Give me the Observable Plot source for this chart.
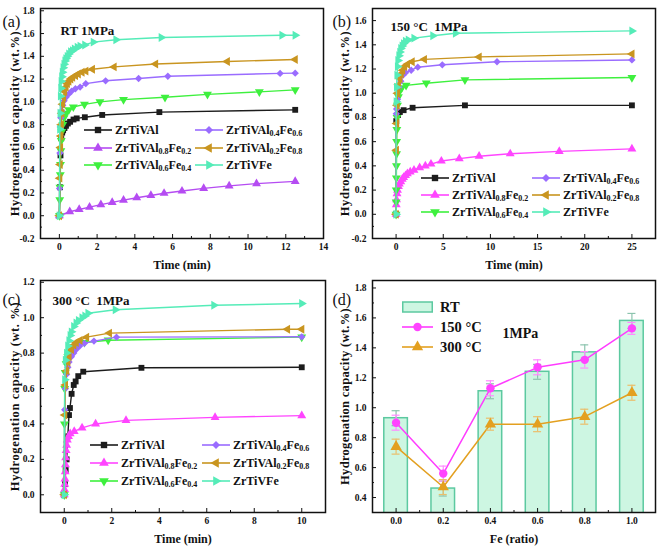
<!DOCTYPE html>
<html><head><meta charset="utf-8">
<script src="https://cdn.jsdelivr.net/npm/d3@7"></script>
<script src="https://cdn.jsdelivr.net/npm/@observablehq/plot@0.6"></script>
<style>
body{margin:0;background:#fff;font-family:"Liberation Serif","Times New Roman",Times,serif;}
#root{position:relative;width:661px;height:552px;overflow:hidden;background:#fff;font-family:"Liberation Serif","Times New Roman",Times,serif;}
.panel{position:absolute;}
.leg{position:absolute;display:flex;align-items:center;height:16px;font-family:"Liberation Serif","Times New Roman",Times,serif;font-weight:bold;font-size:12px;white-space:nowrap;color:#111;}
.leg span{margin-left:3px;font-family:"Liberation Serif","Times New Roman",Times,serif;}
.leg sub{font-size:8px;position:relative;top:2px;vertical-align:baseline;line-height:0;}
.dleg{position:absolute;display:flex;align-items:center;height:16px;font-family:"Liberation Serif","Times New Roman",Times,serif;font-weight:bold;font-size:14.5px;white-space:nowrap;color:#111;}
.dleg span{margin-left:7px;font-family:"Liberation Serif","Times New Roman",Times,serif;}
</style></head>
<body><div id="root"></div>
<script>
// ---------------- DATA ----------------
const seriesLabels = ["ZrTiVAl","ZrTiVAl<sub>0.8</sub>Fe<sub>0.2</sub>","ZrTiVAl<sub>0.6</sub>Fe<sub>0.4</sub>","ZrTiVAl<sub>0.4</sub>Fe<sub>0.6</sub>","ZrTiVAl<sub>0.2</sub>Fe<sub>0.8</sub>","ZrTiVFe"];

// (a) RT 1MPa  [time(min), capacity(wt.%)]
const rt_Al = [[0,0],[0.03,0.25],[0.06,0.53],[0.1,0.68],[0.15,0.73],[0.2,0.75],[0.27,0.77],[0.35,0.79],[0.45,0.81],[0.57,0.825],[0.75,0.845],[0.92,0.855],[1.35,0.865],[2.27,0.885],[5.3,0.91],[12.5,0.93]];
const rt_Al08 = [[0,0],[0.55,0.035],[1.05,0.055],[1.6,0.075],[2.2,0.097],[2.8,0.117],[3.4,0.137],[4.1,0.158],[4.85,0.178],[5.55,0.197],[6.5,0.217],[7.65,0.24],[9.0,0.262],[10.45,0.282],[12.5,0.302]];
const rt_Al06 = [[0,0],[0.02,0.14],[0.03,0.25],[0.05,0.36],[0.06,0.45],[0.08,0.57],[0.1,0.66],[0.13,0.74],[0.18,0.8],[0.25,0.86],[0.35,0.9],[0.5,0.93],[0.74,0.955],[1.33,0.978],[2.15,1.0],[3.4,1.02],[5.6,1.04],[7.85,1.066],[10.6,1.088],[12.5,1.105]];
const rt_Al04 = [[0,0],[0.01,0.24],[0.03,0.55],[0.05,0.78],[0.08,0.86],[0.12,0.92],[0.18,0.97],[0.25,1.01],[0.35,1.04],[0.5,1.07],[0.65,1.095],[0.85,1.115],[1.1,1.13],[1.4,1.16],[2.45,1.185],[4.2,1.205],[5.75,1.225],[11.7,1.25],[12.5,1.252]];
const rt_Al02 = [[0,0],[0.02,0.33],[0.04,0.45],[0.06,0.6],[0.08,0.7],[0.1,0.8],[0.13,0.9],[0.17,0.98],[0.22,1.04],[0.28,1.09],[0.35,1.13],[0.42,1.16],[0.5,1.18],[0.6,1.2],[0.7,1.215],[0.85,1.23],[1.0,1.245],[1.2,1.26],[1.4,1.27],[1.75,1.287],[2.9,1.307],[5.1,1.332],[8.9,1.355],[12.5,1.372]];
const rt_Fe = [[0,0],[0.02,0.76],[0.04,0.9],[0.06,1.05],[0.08,1.12],[0.1,1.18],[0.13,1.22],[0.16,1.26],[0.2,1.3],[0.25,1.33],[0.3,1.36],[0.35,1.38],[0.42,1.4],[0.5,1.42],[0.6,1.44],[0.7,1.45],[0.8,1.465],[0.95,1.48],[1.1,1.49],[1.35,1.5],[1.8,1.525],[3.0,1.545],[5.4,1.565],[11.8,1.585],[12.5,1.585]];

// (b) 150 °C 1MPa
const t150_Al = [[0,0],[0.02,0.77],[0.2,0.82],[0.4,0.845],[0.8,0.86],[1.75,0.88],[7.3,0.9],[25,0.9]];
const t150_Al08 = [[0,0],[0.02,0.08],[0.05,0.12],[0.1,0.17],[0.15,0.2],[0.25,0.23],[0.35,0.25],[0.5,0.27],[0.65,0.29],[0.8,0.305],[1.0,0.32],[1.2,0.335],[1.5,0.35],[1.9,0.365],[2.5,0.385],[3.1,0.4],[3.7,0.415],[4.8,0.44],[6.7,0.46],[8.8,0.48],[12.1,0.5],[17.3,0.52],[25,0.54]];
const t150_Al06 = [[0,0],[0.01,0.1],[0.02,0.2],[0.03,0.3],[0.04,0.4],[0.05,0.5],[0.06,0.6],[0.08,0.7],[0.1,0.8],[0.15,0.9],[0.25,0.97],[0.4,1.02],[0.6,1.045],[1.06,1.065],[3.2,1.083],[7.3,1.11],[25,1.13]];
const t150_Al04 = [[0,0],[0.02,0.83],[0.05,0.87],[0.15,0.95],[0.3,1.05],[0.5,1.1],[0.75,1.15],[1.0,1.17],[1.6,1.19],[2.3,1.215],[4.9,1.235],[10.7,1.26],[25,1.275]];
const t150_Al02 = [[0,0],[0.03,0.53],[0.06,0.75],[0.1,0.9],[0.15,1.0],[0.25,1.07],[0.4,1.12],[0.55,1.16],[0.7,1.19],[0.9,1.22],[1.2,1.24],[1.7,1.26],[3.0,1.28],[8.8,1.3],[25,1.325]];
const t150_Fe = [[0,0],[0.02,0.93],[0.05,1.05],[0.1,1.15],[0.15,1.22],[0.2,1.27],[0.3,1.31],[0.4,1.34],[0.5,1.37],[0.65,1.39],[0.8,1.41],[1.0,1.43],[1.3,1.44],[1.9,1.455],[3.9,1.475],[6.3,1.495],[25,1.515]];

// (c) 300 °C 1MPa
const t300_Al = [[0,0],[0.03,0.06],[0.06,0.14],[0.1,0.2],[0.15,0.33],[0.2,0.45],[0.24,0.49],[0.31,0.57],[0.4,0.62],[0.48,0.64],[0.59,0.67],[0.8,0.695],[3.25,0.717],[10,0.72]];
const t300_Al08 = [[0,0],[0.01,0.03],[0.02,0.06],[0.03,0.09],[0.04,0.13],[0.05,0.17],[0.06,0.21],[0.08,0.25],[0.1,0.28],[0.13,0.31],[0.18,0.33],[0.25,0.345],[0.42,0.358],[0.75,0.378],[1.32,0.4],[2.6,0.42],[6.35,0.437],[10,0.447]];
const t300_Al06 = [[0,0],[0.01,0.4],[0.02,0.6],[0.04,0.69],[0.08,0.74],[0.15,0.78],[0.25,0.81],[0.4,0.835],[0.6,0.85],[0.85,0.86],[1.85,0.873],[10,0.89]];
const t300_Al04 = [[0,0],[0.02,0.48],[0.05,0.6],[0.1,0.68],[0.15,0.72],[0.2,0.75],[0.3,0.78],[0.4,0.8],[0.5,0.82],[0.65,0.84],[0.85,0.855],[1.25,0.868],[2.2,0.89],[10,0.892]];
const t300_Al02 = [[0,0],[0.02,0.45],[0.05,0.62],[0.1,0.7],[0.15,0.75],[0.2,0.78],[0.3,0.82],[0.4,0.845],[0.5,0.86],[0.66,0.872],[0.94,0.89],[1.9,0.913],[9.4,0.935],[10,0.935]];
const t300_Fe = [[0,0],[0.02,0.65],[0.05,0.76],[0.1,0.8],[0.15,0.84],[0.2,0.87],[0.25,0.9],[0.3,0.92],[0.4,0.95],[0.5,0.97],[0.6,0.985],[0.75,1.0],[0.87,1.01],[1.0,1.025],[2.15,1.045],[6.3,1.07],[10,1.08]];

// (d) capacity vs Fe ratio
const feRatio = [0, 0.2, 0.4, 0.6, 0.8, 1.0];
const capRT = [0.93, 0.46, 1.11, 1.24, 1.37, 1.58];
const errRT = [0.05, 0.05, 0.05, 0.05, 0.05, 0.05];
const cap150 = [0.90, 0.56, 1.13, 1.27, 1.32, 1.53];
const err150 = [0.05, 0.05, 0.05, 0.05, 0.055, 0.04];
const cap300 = [0.74, 0.47, 0.89, 0.89, 0.94, 1.10];
const err300 = [0.05, 0.05, 0.04, 0.05, 0.05, 0.05];

// ticks
const ticksA_x = [0,2,4,6,8,10,12,14], minorA_x = [-1,1,3,5,7,9,11,13];
const ticksA_y = [-0.2,0,0.2,0.4,0.6,0.8,1.0,1.2,1.4,1.6,1.8], minorA_y = [-0.1,0.1,0.3,0.5,0.7,0.9,1.1,1.3,1.5,1.7];
const ticksB_x = [0,5,10,15,20,25], minorB_x = [-2.5,2.5,7.5,12.5,17.5,22.5,27.5];
const ticksB_y = [-0.2,0,0.2,0.4,0.6,0.8,1.0,1.2,1.4,1.6], minorB_y = [-0.1,0.1,0.3,0.5,0.7,0.9,1.1,1.3,1.5];
const ticksC_x = [0,2,4,6,8,10], minorC_x = [-1,1,3,5,7,9,11];
const ticksC_y = [0,0.2,0.4,0.6,0.8,1.0,1.2], minorC_y = [0.1,0.3,0.5,0.7,0.9,1.1];
const ticksD_x = [0,0.2,0.4,0.6,0.8,1.0], minorD_x = [0.1,0.3,0.5,0.7,0.9];
const ticksD_y = [0.4,0.6,0.8,1.0,1.2,1.4,1.6,1.8], minorD_y = [0.5,0.7,0.9,1.1,1.3,1.5,1.7];

// ---------------- STYLE ----------------
const FONT = '"Liberation Serif","Times New Roman",Times,serif';
const SYM = [
  {type:"square", d3:d3.symbolSquare, rotate:0},
  {type:"triangle", d3:d3.symbolTriangle, rotate:0},
  {type:"triangle", d3:d3.symbolTriangle, rotate:180},
  {type:"diamond2", d3:d3.symbolDiamond2, rotate:0},
  {type:"triangle", d3:d3.symbolTriangle, rotate:-90},
  {type:"triangle", d3:d3.symbolTriangle, rotate:90}
];
const colorsA = ["#1c1c1c","#b54cf2","#3ef03e","#9a6cff","#c99520","#55ecb8"];
const colorsBC = ["#1c1c1c","#ff45ff","#3ef03e","#9a6cff","#c99520","#55ecb8"];

const root = document.getElementById("root");
const f1 = d => d.toFixed(1);
const f0 = d => String(d);

function styleSvg(svg, yLabelSize, yLetter) {
  const s = d3.select(svg);
  s.selectAll('g[aria-label="y-axis label"] text').style("font-size", yLabelSize).style("letter-spacing", yLetter);
  s.selectAll('g[aria-label="x-axis label"] text').style("font-size", "12px");
}

function place(node, left, top) {
  const div = document.createElement("div");
  div.className = "panel";
  div.style.left = left + "px";
  div.style.top = top + "px";
  div.appendChild(node);
  root.appendChild(div);
}

function axes(o) {
  return [
    Plot.axisX({ticks: o.xTicks, tickSize: -4, tickPadding: 9, tickFormat: o.xFmt, label: o.xLabel, labelAnchor: "center", labelArrow: "none", labelOffset: o.xLabelOffset}),
    Plot.axisX({ticks: o.xMinor, tickSize: -2, tickFormat: () => "", label: null}),
    Plot.axisY({ticks: o.yTicks, tickSize: -4, tickPadding: 10, tickFormat: f1, label: o.yLabel, labelAnchor: "center", labelArrow: "none", labelOffset: o.yLabelOffset}),
    Plot.axisY({ticks: o.yMinor, tickSize: -2, tickFormat: () => "", label: null}),
    Plot.frame({stroke: "#111", strokeWidth: 1.5})
  ];
}

function timePanel(o) {
  const marks = [];
  o.series.forEach((s, i) => {
    const data = s.map(([t, v]) => ({t, v}));
    marks.push(Plot.line(data, {x: "t", y: "v", stroke: o.colors[i], strokeWidth: 1.4}));
    marks.push(Plot.dot(data, {x: "t", y: "v", fill: o.colors[i], r: 3.3, symbol: SYM[i].type, rotate: SYM[i].rotate}));
  });
  const svg = Plot.plot({
    width: o.width, height: o.height,
    marginLeft: o.m[0], marginRight: o.m[1], marginTop: o.m[2], marginBottom: o.m[3],
    style: {fontFamily: FONT, fontSize: "9.5px", fontWeight: "bold", background: "transparent", color: "#111"},
    x: {domain: o.xDomain}, y: {domain: o.yDomain},
    marks: [
      ...marks,
      ...axes(o),
      Plot.text([o.title], {text: d => d, frameAnchor: "top-left", dx: o.titleDx, dy: o.titleDy, fontSize: 13, fontWeight: "bold", textAnchor: "start"}),
      Plot.text([o.tag], {text: d => d, frameAnchor: "top-left", dx: o.tagDx, dy: o.tagDy, fontSize: 16, fontWeight: "normal", textAnchor: "start"})
    ]
  });
  styleSvg(svg, "12.5px", "0.6px");
  place(svg, o.left, o.top);
}

function legend(cols, rows, colors) {
  seriesLabels.forEach((lab, i) => {
    const col = Math.floor(i / 3), row = i % 3;
    const div = document.createElement("div");
    div.className = "leg";
    div.style.left = cols[col] + "px";
    div.style.top = (rows[row] - 8) + "px";
    const sw = d3.create("svg").attr("width", 28).attr("height", 16);
    sw.append("line").attr("x1", 0).attr("x2", 28).attr("y1", 8).attr("y2", 8).attr("stroke", colors[i]).attr("stroke-width", 1.6);
    sw.append("path").attr("d", d3.symbol(SYM[i].d3, Math.PI * 3.6 * 3.6)()).attr("transform", `translate(14,8) rotate(${SYM[i].rotate})`).attr("fill", colors[i]);
    div.appendChild(sw.node());
    const span = document.createElement("span");
    span.innerHTML = lab;
    div.appendChild(span);
    root.appendChild(div);
  });
}

// (a)
timePanel({left: 0, top: 0, width: 330, height: 275, m: [40, 7, 8, 37],
  xDomain: [-1, 14], yDomain: [-0.2, 1.82], xTicks: ticksA_x, xMinor: minorA_x, yTicks: ticksA_y, yMinor: minorA_y,
  xFmt: f0, xLabel: "Time (min)", yLabel: "Hydrogenation capacity (wt.%)", xLabelOffset: 30, yLabelOffset: 30,
  series: [rt_Al, rt_Al08, rt_Al06, rt_Al04, rt_Al02, rt_Fe], colors: colorsA,
  title: "RT 1MPa", titleDx: 20, titleDy: 17, tag: "(a)", tagDx: -38, tagDy: 7});
legend([84, 195], [130, 148, 165], colorsA);

// (b)
timePanel({left: 330, top: 0, width: 331, height: 275, m: [42, 6, 8, 37],
  xDomain: [-2.5, 27.5], yDomain: [-0.2, 1.7], xTicks: ticksB_x, xMinor: minorB_x, yTicks: ticksB_y, yMinor: minorB_y,
  xFmt: f0, xLabel: "Time (min)", yLabel: "Hydrogenation capacity (wt.%)", xLabelOffset: 30, yLabelOffset: 32,
  series: [t150_Al, t150_Al08, t150_Al06, t150_Al04, t150_Al02, t150_Fe], colors: colorsBC,
  title: "150 °C\u00a0\u00a01MPa", titleDx: 18, titleDy: 13, tag: "(b)", tagDx: -40, tagDy: 7});
legend([421, 532], [178, 195, 212], colorsBC);

// (c)
timePanel({left: 0, top: 275, width: 330, height: 277, m: [40, 5, 5, 40],
  xDomain: [-1, 11], yDomain: [-0.1, 1.21], xTicks: ticksC_x, xMinor: minorC_x, yTicks: ticksC_y, yMinor: minorC_y,
  xFmt: f0, xLabel: "Time (min)", yLabel: "Hydrogenation capacity (wt. %)", xLabelOffset: 30, yLabelOffset: 30,
  series: [t300_Al, t300_Al08, t300_Al06, t300_Al04, t300_Al02, t300_Fe], colors: colorsBC,
  title: "300 °C\u00a0\u00a01MPa", titleDx: 12, titleDy: 15, tag: "(c)", tagDx: -38, tagDy: 13});
legend([90, 202], [445, 463, 481], colorsBC);

// (d)
(function () {
  const dRT = feRatio.map((fe, i) => ({fe, v: capRT[i], e: errRT[i]}));
  const d150 = feRatio.map((fe, i) => ({fe, v: cap150[i], e: err150[i]}));
  const d300 = feRatio.map((fe, i) => ({fe, v: cap300[i], e: err300[i]}));
  const cap = 0.017;
  const errMarks = (data, color, w) => [
    Plot.ruleX(data, {x: "fe", y1: d => d.v - d.e, y2: d => d.v + d.e, stroke: color, strokeWidth: w}),
    Plot.ruleY(data, {y: d => d.v + d.e, x1: d => d.fe - cap, x2: d => d.fe + cap, stroke: color, strokeWidth: w}),
    Plot.ruleY(data, {y: d => d.v - d.e, x1: d => d.fe - cap, x2: d => d.fe + cap, stroke: color, strokeWidth: w})
  ];
  const o = {xTicks: ticksD_x, xMinor: minorD_x, yTicks: ticksD_y, yMinor: minorD_y, xFmt: f1,
    xLabel: "Fe (ratio)", yLabel: "Hydrogenation capacity (wt.%)", xLabelOffset: 30, yLabelOffset: 32};
  const svg = Plot.plot({
    width: 331, height: 277, marginLeft: 42, marginRight: 6, marginTop: 5, marginBottom: 40,
    style: {fontFamily: FONT, fontSize: "9.5px", fontWeight: "bold", background: "transparent", color: "#111"},
    x: {domain: [-0.1, 1.1]}, y: {domain: [0.3, 1.85]},
    marks: [
      Plot.rect(dRT, {x1: d => d.fe - 0.05, x2: d => d.fe + 0.05, y1: () => 0, y2: "v", fill: "#cdf6e2", stroke: "#5cc9a0", strokeWidth: 1.5, clip: true}),
      ...errMarks(dRT, "#8cc4ae", 1.2),
      Plot.line(d150, {x: "fe", y: "v", stroke: "#ff3cff", strokeWidth: 1.5}),
      ...errMarks(d150, "#ff8cff", 1.2),
      Plot.dot(d150, {x: "fe", y: "v", fill: "#ff44ff", r: 4.2, symbol: "circle"}),
      Plot.line(d300, {x: "fe", y: "v", stroke: "#e3a020", strokeWidth: 1.5}),
      ...errMarks(d300, "#ebbe6a", 1.2),
      Plot.dot(d300, {x: "fe", y: "v", fill: "#e3a020", r: 4.2, symbol: "triangle"}),
      ...axes(o),
      Plot.text(["1MPa"], {text: d => d, frameAnchor: "top-left", dx: 130, dy: 48, fontSize: 14, fontWeight: "bold", textAnchor: "start"}),
      Plot.text(["(d)"], {text: d => d, frameAnchor: "top-left", dx: -40, dy: 13, fontSize: 16, fontWeight: "normal", textAnchor: "start"})
    ]
  });
  styleSvg(svg, "12.5px", "0.3px");
  place(svg, 330, 275);

  // legend for (d)
  const items = [
    {label: "RT", kind: "bar"},
    {label: "150 °C", kind: "line", color: "#ff3cff", sym: d3.symbolCircle, fill: "#ff44ff"},
    {label: "300 °C", kind: "line", color: "#e3a020", sym: d3.symbolTriangle, fill: "#e3a020"}
  ];
  const rowsY = [307, 327, 347];
  items.forEach((it, i) => {
    const div = document.createElement("div");
    div.className = "dleg";
    div.style.left = "402px";
    div.style.top = (rowsY[i] - 8) + "px";
    const sw = d3.create("svg").attr("width", 31).attr("height", 16);
    if (it.kind === "bar") {
      sw.append("rect").attr("x", 0.75).attr("y", 3).attr("width", 29.5).attr("height", 10).attr("fill", "#cdf6e2").attr("stroke", "#5cc9a0").attr("stroke-width", 1.5);
    } else {
      sw.append("line").attr("x1", 0).attr("x2", 31).attr("y1", 8).attr("y2", 8).attr("stroke", it.color).attr("stroke-width", 1.6);
      sw.append("path").attr("d", d3.symbol(it.sym, Math.PI * 4.2 * 4.2)()).attr("transform", "translate(15.5,8)").attr("fill", it.fill);
    }
    div.appendChild(sw.node());
    const span = document.createElement("span");
    span.textContent = it.label;
    div.appendChild(span);
    root.appendChild(div);
  });
})();
</script>
</body></html>
